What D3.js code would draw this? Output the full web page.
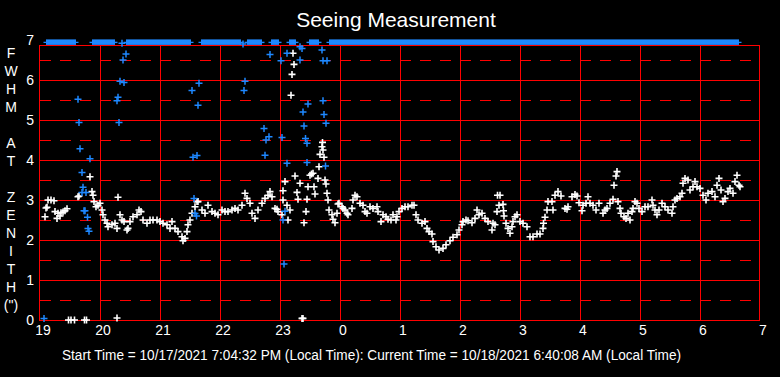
<!DOCTYPE html>
<html>
<head>
<meta charset="utf-8">
<script src="https://cdn.jsdelivr.net/npm/d3@7"></script>
<style>
    body { margin: 0; background: #000; }
</style>
</head>
<body>
<div id="grafiek"></div>
<script>
// Seeing measurement chart

// time is in minutes after 19:00 local time, value is FWHM in arcsec
var hourLabels = [19, 20, 21, 22, 23, 0, 1, 2, 3, 4, 5, 6, 7];
var yTickValues = [0, 1, 2, 3, 4, 5, 6, 7];
var axisLetters = ["F", "W", "H", "M", "", "A", "T", "", "Z", "E", "N", "I", "T", "H", "(\")"];
var titleText = "Seeing Measurement";
var footerText = "Start Time = 10/17/2021 7:04:32 PM (Local Time): Current Time = 10/18/2021 6:40:08 AM (Local Time)";

// main measurements (white)
var seeing = [
    [5,2.58],[6,2.8],[7,2.82],[8,3.0],[11,3.0],[14,2.98],[15,2.71],[17,2.54],[18,2.67],[20,2.6],[21,2.68],[23,2.7],
    [25,2.73],[27,2.78],[28.5,0],[31,0],[34.5,0],[38,3.08],[39,3.1],[44.5,0],[46.5,0],[50,3.58],[52,3.21],[53,3.12],
    [54,2.96],[56,2.83],[58,2.87],[60,2.92],[62,2.75],[63,2.63],[65,2.5],[67,2.42],[68,2.33],[72,2.38],[75,2.42],
    [77,2.29],[77,0.05],[78,3.07],[80,2.63],[82,2.5],[84,2.46],[87,2.25],[88,2.29],[90,2.46],[93,2.58],[97,2.63],
    [99,2.75],[101,2.71],[103,2.5],[107,2.42],[110,2.5],[113,2.5],[117,2.5],[120,2.46],[123,2.42],[127,2.38],
    [130,2.29],[132,2.46],[135,2.29],[138,2.21],[142,2.08],[143,1.98],[145,2.04],[147,2.21],[148,2.38],[150,2.5],
    [152,2.67],[155,2.83],[157,2.96],[158,2.96],[162,2.75],[165,2.67],[168,2.87],[172,2.71],[175,2.67],[178,2.63],
    [182,2.75],[185,2.71],[188,2.71],[192,2.75],[195,2.79],[198,2.75],[202,2.87],[205,3.17],[207,3.04],[210,2.92],
    [212,2.67],[215,2.54],[218,2.75],[222,2.92],[225,3.04],[228,3.12],[230,3.21],[232,3.08],[235,2.79],[237,2.77],
    [238,2.71],[242,2.63],[243,3.0],[243,3.23],[245,3.46],[247,2.87],[248,2.5],[250,2.75],[251,5.62],[252,6.14],
    [253,6.67],[254,6.39],[255,3.6],[257,3.19],[258,3.02],[260,3.42],[262,0.04],[263,0.04],[264,2.43],[266,2.71],
    [267,3.02],[268,3.33],[270,3.62],[271.5,3.65],[273,3.67],[274,3.33],[275,3.15],[278,3.54],[279,3.83],[280,4.14],
    [282,4.33],[282.5,4.44],[283,4.25],[284,4.07],[285,3.5],[286,3.4],[287,3.17],[288,3.0],[289,2.75],[292,2.63],
    [293,2.52],[295,2.43],[297,2.67],[298,2.9],[299,2.92],[302,2.83],[303,2.79],[305,2.75],[307,2.67],[308,2.63],
    [312,2.79],[313,3.0],[315,3.12],[317,3.08],[320,2.92],[323,2.87],[325,2.71],[327,2.67],[330,2.83],[333,2.79],
    [337,2.83],[338,2.71],[341,2.46],[343,2.63],[346,2.58],[348,2.52],[351,2.5],[353,2.63],[356,2.5],[357,2.58],
    [359,2.71],[362,2.79],[365,2.83],[368,2.83],[372,2.87],[374,2.87],[376,2.63],[378,2.5],[382,2.42],[385,2.46],
    [387,2.29],[389,2.21],[392,2.15],[393,1.96],[396,1.83],[399,1.75],[403,1.79],[406,1.88],[410,1.98],[413,2.07],
    [417,2.13],[419,2.25],[422,2.38],[423,2.46],[426,2.5],[428,2.48],[432,2.43],[435,2.54],[437,2.75],[439,2.63],
    [442,2.67],[445,2.54],[448,2.46],[452,2.25],[453,2.42],[455,2.38],[457,2.71],[457.5,3.12],[459,2.87],[460,3.12],
    [463,2.89],[463.5,2.73],[464,2.6],[466,2.42],[468,2.29],[470,2.17],[472,2.33],[473,2.46],[475,2.58],[477,2.63],
    [480,2.46],[483,2.42],[487,2.33],[490,2.08],[493,2.08],[497,2.15],[500,2.15],[503,2.29],[503.5,2.42],[505,2.57],
    [507,2.75],[508,2.96],[512,2.96],[513,2.75],[515,3.12],[518,3.21],[521,3.1],[525,2.79],[527,2.77],[528,2.83],
    [532,3.08],[535,3.14],[537,3.1],[539,2.93],[542,2.73],[543,2.87],[546,2.92],[548,3.08],[550,2.92],[553,2.87],
    [556,2.75],[559,2.92],[563,2.67],[565,2.75],[567,2.79],[570,2.92],[573,3.02],[574,3.37],[576,3.6],[577,3.71],
    [578,2.96],[580,2.79],[581,2.67],[584,2.58],[586,2.54],[588,2.67],[590,2.5],[592,2.71],[593,2.79],[595,2.96],
    [597,2.92],[599,2.79],[602,2.71],[605,2.83],[608,2.83],[612,3.0],[613,2.87],[615,2.75],[617,2.63],[619,2.75],
    [622,2.92],[625,2.83],[628,2.75],[632,2.67],[633,2.83],[635,3.0],[637,3.04],[640,3.08],[642,3.17],[643,3.42],
    [645,3.54],[648,3.5],[650,3.25],[653,3.33],[655,3.46],[657,3.33],[660,3.29],[663,3.12],[666,3.0],[668,3.17],
    [672,3.21],[675,3.08],[677,3.37],[679,3.54],[681,3.25],[683,2.96],[685,3.04],[688,3.21],[690,3.29],[693,3.17],
    [695,3.46],[697,3.62],[699,3.37],[700,3.33]
];

// second set of measurements (blue)
var seeingBlue = [
    [4,0.04],[38,5.52],[39,4.94],[40,4.28],[42,3.19],[42,3.69],[43,3.32],[44,2.73],[45,2.73],[46,3.19],[47.5,2.57],
    [48,2.29],[49,2.22],[50,4.03],[77,5.48],[78,5.57],[79,4.94],[80,5.97],[82,6.92],[83,6.5],[84,5.94],[86,6.65],
    [152,5.74],[153,4.07],[154,3.04],[155,2.66],[156.5,2.6],[157,4.11],[158,5.37],[159,5.92],[203,6.9],[204,5.74],
    [205,5.97],[224,4.79],[225,4.12],[226,4.5],[229,4.58],[230,6.64],[241,6.48],[242,4.56],[243,2.5],[244,1.4],
    [245,2.72],[247,3.92],[247,6.67],[260,6.83],[260,6.5],[262,6.79],[263,5.2],[264,4.85],[265.5,4.54],[267,4.42],
    [267,3.94],[268,5.4],[282,6.75],[283,6.48],[283,5.48],[284,5.14],[285.5,3.85],[286,4.92],[287,6.48]
];

// periods (minutes) where blue values were off the top of the scale
var offScaleRanges = [[7,35],[53,74],[87,150],[162,200],[208,221],[232,238],[250,255],[270,278],[290,698]];
var offScaleLevel = 6.94;

var width = 780;
var height = 377;
var red = "#ff0000";
var blue = "#1e88ff";

var svg = d3.select("#grafiek")
    .append("svg")
    .attr("width", width)
    .attr("height", height)
    .style("background", "#000");

var x = d3.scaleLinear().domain([0, 720]).range([40, 760]);
var y = d3.scaleLinear().domain([0, 7]).range([320, 40]);
var plotTop = y(6.875);

function crisp(v) { return Math.round(v) + 0.5; }

// grid
var grid = svg.append("g").attr("shape-rendering", "crispEdges");

grid.selectAll("line.dash")
    .data(d3.range(0.5, 7, 1))
    .enter()
    .append("line")
    .attr("x1", x(0))
    .attr("x2", x(720))
    .attr("y1", function(d) { return crisp(y(d)); })
    .attr("y2", function(d) { return crisp(y(d)); })
    .attr("stroke", red)
    .attr("stroke-dasharray", "11,9");

grid.selectAll("line.h")
    .data(d3.range(1, 7, 1))
    .enter()
    .append("line")
    .attr("x1", x(0))
    .attr("x2", x(720))
    .attr("y1", function(d) { return crisp(y(d)); })
    .attr("y2", function(d) { return crisp(y(d)); })
    .attr("stroke", red);

grid.selectAll("line.v")
    .data(d3.range(60, 720, 60))
    .enter()
    .append("line")
    .attr("x1", function(d) { return crisp(x(d)); })
    .attr("x2", function(d) { return crisp(x(d)); })
    .attr("y1", plotTop)
    .attr("y2", y(0))
    .attr("stroke", red);

// off-scale band along the top
var band = svg.append("g");
var bandY = y(offScaleLevel);
band.selectAll("rect")
    .data(offScaleRanges)
    .enter()
    .append("rect")
    .attr("x", function(d) { return x(d[0]) - 1; })
    .attr("width", function(d) { return x(d[1]) - x(d[0]) + 2; })
    .attr("y", bandY - 3)
    .attr("height", 5.5)
    .attr("fill", blue);
band.selectAll("line")
    .data(offScaleRanges)
    .enter()
    .append("line")
    .attr("x1", function(d) { return x(d[0]) - 3.5; })
    .attr("x2", function(d) { return x(d[1]) + 3.5; })
    .attr("y1", bandY)
    .attr("y2", bandY)
    .attr("stroke", blue)
    .attr("stroke-width", 1.4);

// frame
svg.append("rect")
    .attr("x", crisp(x(0)) - 1)
    .attr("y", crisp(plotTop))
    .attr("width", x(720) - x(0))
    .attr("height", Math.round(y(0) - plotTop))
    .attr("fill", "none")
    .attr("stroke", red)
    .attr("shape-rendering", "crispEdges");

// plus markers
function plus(d) {
    var cx = x(d[0]);
    var cy = y(d[1]);
    return "M" + (cx - 3.5) + "," + cy + "H" + (cx + 3.5) +
        "M" + cx + "," + (cy - 3.5) + "V" + (cy + 3.5);
}

svg.append("g")
    .selectAll("path")
    .data(seeing)
    .enter()
    .append("path")
    .attr("d", plus)
    .attr("stroke", "#fff")
    .attr("stroke-width", 1.6);

svg.append("g")
    .selectAll("path")
    .data(seeingBlue)
    .enter()
    .append("path")
    .attr("d", plus)
    .attr("stroke", blue)
    .attr("stroke-width", 1.5);

// axes
var yAxis = d3.axisLeft(y)
    .tickValues(yTickValues)
    .tickFormat(d3.format("d"))
    .tickSize(0)
    .tickPadding(6);
var yG = svg.append("g").attr("transform", "translate(40,0)").call(yAxis);

var xAxis = d3.axisBottom(x)
    .tickValues(d3.range(0, 780, 60))
    .tickFormat(function(d, i) { return hourLabels[i]; })
    .tickSize(0)
    .tickPadding(5);
var xG = svg.append("g").attr("transform", "translate(0,320)").call(xAxis);

[xG, yG].forEach(function(g) {
    g.select(".domain").remove();
    g.selectAll("text")
        .attr("fill", "#fff")
        .style("font-family", "'Liberation Sans Narrow', 'Liberation Sans', Arial, sans-serif")
        .style("font-size", "14px");
});
xG.selectAll("text").attr("dx", "2.5");

// vertical axis title, one letter per line
svg.append("g")
    .selectAll("text")
    .data(axisLetters)
    .enter()
    .append("text")
    .attr("x", 11)
    .attr("y", function(d, i) { return 53 + i * 18; })
    .attr("dy", "0.36em")
    .attr("text-anchor", "middle")
    .attr("fill", "#fff")
    .style("font-family", "'Liberation Sans', Arial, sans-serif")
    .style("font-size", "14px")
    .text(function(d) { return d; });

// title
svg.append("text")
    .attr("x", 396)
    .attr("y", 27)
    .attr("text-anchor", "middle")
    .attr("fill", "#fff")
    .style("font-family", "'Liberation Sans', Arial, sans-serif")
    .style("font-size", "21px")
    .text(titleText);

// footer
svg.append("text")
    .attr("x", 62)
    .attr("y", 360)
    .attr("fill", "#fff")
    .attr("textLength", 619)
    .attr("lengthAdjust", "spacingAndGlyphs")
    .style("font-family", "'Liberation Sans Narrow', 'Liberation Sans', Arial, sans-serif")
    .style("font-size", "14px")
    .text(footerText);
</script>
</body>
</html>
